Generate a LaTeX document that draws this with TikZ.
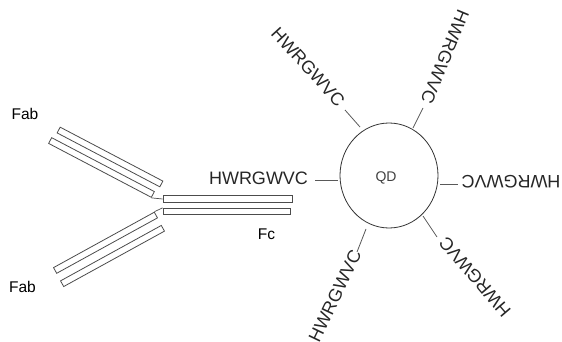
\documentclass[tikz,border=0pt]{standalone}
\usepackage{fontspec}
\setmainfont{Liberation Sans}
\usetikzlibrary{shapes.geometric}
\begin{document}
\begin{tikzpicture}[x=1pt,y=-1pt,
  chain/.style={draw=black!70,line width=0.8pt,rectangle,inner sep=0pt,minimum height=6.5pt,fill=white},
  pep/.style={font=\fontsize{18}{18}\selectfont,inner sep=0pt,text=black!85},
  lab/.style={font=\fontsize{15.5}{15.5}\selectfont,inner sep=0pt},
  spoke/.style={draw=black!65,line width=0.8pt},
  hinge/.style={draw=black!70,line width=0.7pt}]
\useasboundingbox (0,0) rectangle (562,342);
% Fc
\node[chain,minimum width=129pt] (fc1) at (227.5,199) {};
\node[chain,minimum width=127pt] (fc2) at (226.5,211.5) {};
% Fab upper
\node[chain,minimum width=116pt,rotate=-27.7] (fabu1) at (110,157) {};
\node[chain,minimum width=116pt,rotate=-27.7] (fabu2) at (101.5,167.5) {};
% Fab lower
\node[chain,minimum width=115pt,rotate=28.8] (fabl1) at (105.5,242.75) {};
\node[chain,minimum width=115pt,rotate=28.8] (fabl2) at (112.5,256) {};
% hinges
\draw[hinge] (fabu2.south east) -- (fc1.west);
\draw[hinge] (fabl1.north east) -- (fc2.north west);
% labels
\node[lab] (fab1) at (25,114) {Fab};
\node[lab] (fab2) at (22.5,286.5) {Fab};
\node[lab] (fc) at (266.5,234) {Fc};
% QD
\node[draw=black!80,line width=0.8pt,ellipse,minimum width=98pt,minimum height=105pt,inner sep=0pt] (qd) at (389,175.5) {};
\node[font=\fontsize{14}{14}\selectfont,text=black!75,inner sep=0pt] (qdl) at (386,178) {QD};
% peptide labels
\node[pep] (p3) at (258.5,178.5) {HWRGWVC};
\node[pep,rotate=180] (p4) at (511,182) {HWRGWVC};
\node[pep,rotate=-47.5] (p1) at (308,67) {HWRGWVC};
\node[pep,rotate=-112.5] (p2) at (445,57) {HWRGWVC};
\node[pep,rotate=130.6] (p5) at (475,277) {HWRGWVC};
\node[pep,rotate=64.4] (p6) at (335,296) {HWRGWVC};
% spoke ends
\coordinate (a1) at (360,127); \coordinate (b1) at (345,110);
\coordinate (a2) at (413,128); \coordinate (b2) at (423,108);
\coordinate (a3) at (338,180); \coordinate (b3) at (315,180);
\coordinate (a4) at (440,184); \coordinate (b4) at (458,184);
\coordinate (a5) at (423,216); \coordinate (b5) at (437,237);
\coordinate (a6) at (366,229); \coordinate (b6) at (357,252);
\foreach \i in {1,...,6} {\draw[spoke] (a\i) -- (b\i);}
\end{tikzpicture}
\end{document}
